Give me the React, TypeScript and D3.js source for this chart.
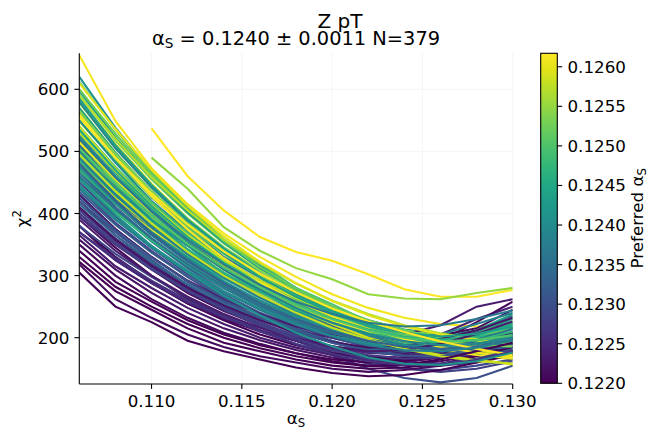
import * as d3 from "d3";

// alpha_s scan points
const ALPHA = [0.106, 0.108, 0.11, 0.112, 0.114, 0.116, 0.118, 0.12, 0.122, 0.124, 0.126, 0.128, 0.13];

// preferred alpha_s of each replica (colour)
const PREFERRED = [
  0.1261, 0.1241, 0.125, 0.1259, 0.1252, 0.1243, 0.126, 0.1221, 0.1254, 0.1239,
  0.1262, 0.1248, 0.1237, 0.1258, 0.1251, 0.1242, 0.124, 0.1253, 0.126, 0.1238,
  0.1249, 0.1244, 0.1257, 0.1255, 0.1234, 0.1239, 0.1232, 0.1247, 0.1259, 0.1236,
  0.123, 0.1237, 0.1261, 0.1233, 0.1236, 0.1229, 0.1231, 0.1228, 0.1227, 0.1224,
  0.123, 0.1228, 0.1222, 0.1221, 0.1226, 0.122, 0.1221, 0.1229, 0.1223, 0.1222,
  0.1221, 0.122, 0.122, 0.1221, 0.122, 0.1245, 0.125, 0.1235, 0.1223, 0.124,
  0.1262, 0.1256, 0.1243, 0.1232, 0.1258, 0.1246, 0.1241, 0.1227, 0.1238, 0.1234,
  0.1225, 0.1252, 0.1257, 0.1244, 0.1236, 0.126, 0.1248, 0.1233,
  0.1242, 0.1251, 0.1235, 0.1259, 0.1222, 0.124, 0.1231, 0.1247, 0.1261, 0.1245,
  0.1223, 0.1228, 0.1254, 0.1258, 0.1239, 0.1233, 0.1243, 0.122, 0.125, 0.1262,
  0.1226, 0.1238, 0.1241, 0.1237,
  0.1262, 0.1255,
];

// chi2 of each replica at the ALPHA points
const CHI2: (number | null)[][] = [
  [655, 549, 473, 415, 368, 330, 298, 270, 248, 232, 222, 218, 220],
  [620, 538, 468, 408, 358, 316, 280, 250, 228, 213, 206, 208, 218],
  [612, 535, 466, 412, 358, 320, 280, 254, 226, 212, 196, 197, 200],
  [600, 528, 462, 405, 355, 312, 276, 246, 222, 204, 190, 182, 178],
  [592, 518, 455, 400, 352, 312, 278, 250, 228, 212, 202, 200, 205],
  [598, 522, 458, 402, 354, 312, 277, 248, 226, 212, 206, 210, 222],
  [585, 512, 448, 392, 344, 304, 270, 240, 216, 198, 186, 178, 175],
  [562, 492, 432, 380, 336, 298, 266, 240, 220, 208, 204, 215, 245],
  [578, 506, 445, 392, 346, 308, 275, 248, 227, 212, 203, 201, 206],
  [580, 505, 442, 388, 342, 302, 268, 240, 218, 204, 197, 198, 208],
  [570, 498, 436, 382, 336, 296, 262, 234, 212, 196, 184, 176, 170],
  [560, 494, 436, 384, 340, 303, 271, 245, 224, 210, 200, 198, 204],
  [560, 490, 426, 377, 330, 297, 260, 238, 213, 205, 194, 200, 206],
  [548, 484, 427, 378, 336, 300, 270, 244, 224, 208, 196, 188, 184],
  [550, 485, 428, 378, 335, 298, 266, 240, 220, 206, 197, 195, 200],
  [540, 472, 414, 364, 322, 286, 255, 230, 210, 196, 188, 188, 196],
  [550, 482, 420, 372, 324, 292, 256, 234, 210, 200, 188, 194, 198],
  [530, 468, 413, 365, 324, 290, 260, 236, 216, 202, 193, 190, 195],
  [522, 458, 402, 354, 314, 280, 250, 226, 206, 190, 178, 170, 166],
  [520, 455, 398, 350, 310, 276, 246, 222, 203, 190, 184, 185, 195],
  [520, 460, 408, 362, 322, 288, 258, 234, 215, 203, 196, 202, 218],
  [510, 450, 396, 350, 310, 276, 248, 226, 210, 200, 196, 208, 230],
  [500, 443, 393, 350, 313, 282, 255, 232, 214, 200, 190, 183, 178],
  [500, 442, 392, 348, 310, 278, 250, 228, 210, 197, 189, 187, 192],
  [500, 438, 384, 338, 298, 265, 238, 216, 200, 190, 186, 190, 200],
  [500, 440, 388, 342, 302, 268, 240, 216, 198, 185, 178, 178, 186],
  [490, 428, 375, 328, 290, 258, 232, 212, 198, 190, 188, 192, 205],
  [485, 428, 380, 338, 302, 272, 246, 225, 208, 196, 188, 185, 190],
  [480, 425, 378, 337, 302, 272, 246, 225, 208, 194, 184, 177, 172],
  [480, 422, 372, 328, 290, 258, 230, 207, 190, 178, 172, 172, 180],
  [470, 410, 360, 315, 280, 250, 225, 205, 190, 180, 178, 182, 195],
  [470, 415, 365, 322, 285, 254, 228, 208, 192, 180, 175, 176, 184],
  [470, 418, 373, 334, 300, 271, 247, 226, 208, 192, 178, 166, 156],
  [460, 405, 355, 312, 275, 245, 220, 200, 185, 175, 170, 172, 182],
  [460, 405, 358, 316, 280, 250, 224, 203, 188, 176, 170, 170, 178],
  [450, 395, 345, 302, 268, 240, 218, 200, 186, 178, 175, 180, 190],
  [445, 392, 345, 305, 270, 240, 215, 195, 180, 170, 168, 172, 185],
  [440, 385, 340, 298, 262, 232, 205, 182, 162, 150, 145, 150, 162],
  [430, 375, 330, 290, 258, 232, 210, 192, 180, 172, 170, 175, 185],
  [420, 365, 320, 282, 252, 230, 212, 200, 192, 195, 205, 230, 250],
  [420, 370, 325, 285, 250, 220, 195, 172, 150, 135, 128, 135, 155],
  [410, 360, 318, 280, 250, 225, 203, 185, 170, 160, 158, 162, 172],
  [400, 352, 310, 272, 243, 220, 200, 186, 176, 175, 180, 190, 210],
  [395, 345, 300, 262, 235, 212, 195, 180, 170, 168, 175, 188, 205],
  [395, 350, 310, 275, 245, 218, 195, 177, 165, 155, 155, 160, 175],
  [380, 330, 290, 255, 228, 205, 188, 175, 168, 165, 172, 185, 200],
  [380, 325, 288, 255, 230, 210, 195, 185, 180, 182, 195, 225, 258],
  [380, 335, 298, 265, 238, 212, 190, 172, 158, 150, 148, 155, 165],
  [365, 315, 280, 248, 222, 200, 184, 172, 165, 162, 170, 180, 192],
  [358, 310, 272, 240, 215, 196, 180, 168, 160, 160, 168, 180, 195],
  [350, 300, 262, 232, 208, 190, 175, 162, 155, 156, 162, 172, 190],
  [340, 290, 258, 228, 205, 188, 175, 165, 160, 163, 170, 182, 200],
  [322, 275, 245, 215, 192, 178, 165, 155, 150, 152, 158, 170, 185],
  [318, 262, 232, 205, 185, 170, 160, 150, 145, 148, 155, 165, 178],
  [305, 250, 225, 195, 178, 165, 152, 143, 138, 140, 148, 160, 172],
  [530, 465, 408, 358, 318, 284, 255, 232, 214, 203, 200, 212, 238],
  [540, 475, 418, 368, 326, 292, 262, 238, 220, 208, 202, 208, 225],
  [475, 418, 368, 325, 288, 258, 232, 212, 198, 192, 195, 210, 235],
  [430, 375, 330, 292, 262, 238, 218, 205, 198, 205, 220, 250, 262],
  [490, 430, 378, 334, 296, 264, 236, 214, 198, 188, 184, 186, 195],
  [560, 490, 428, 374, 328, 290, 258, 230, 208, 192, 180, 172, 166],
  [510, 450, 398, 353, 315, 283, 256, 233, 214, 198, 185, 175, 168],
  [455, 402, 356, 316, 282, 253, 228, 208, 193, 183, 180, 186, 200],
  [435, 382, 337, 298, 265, 237, 213, 194, 180, 172, 172, 182, 200],
  [530, 468, 413, 365, 325, 292, 264, 240, 220, 204, 190, 180, 170],
  [470, 416, 370, 330, 295, 266, 240, 220, 205, 196, 194, 200, 215],
  [445, 392, 348, 308, 275, 247, 222, 203, 190, 182, 182, 190, 205],
  [405, 356, 314, 278, 248, 222, 200, 183, 172, 166, 168, 178, 195],
  [490, 432, 380, 335, 297, 265, 238, 218, 205, 200, 205, 222, 240],
  [415, 365, 322, 286, 255, 230, 210, 193, 182, 178, 182, 196, 215],
  [370, 325, 288, 257, 232, 212, 196, 184, 176, 172, 176, 188, 205],
  [600, 528, 463, 406, 356, 314, 279, 250, 228, 212, 200, 194, 196],
  [590, 520, 458, 405, 358, 320, 287, 260, 238, 220, 207, 198, 193],
  [570, 498, 435, 382, 337, 298, 266, 240, 219, 205, 197, 196, 203],
  [520, 455, 398, 350, 310, 276, 246, 222, 203, 190, 182, 180, 186],
  [610, 536, 470, 412, 363, 322, 288, 259, 236, 218, 205, 196, 190],
  [455, 402, 357, 318, 285, 257, 233, 214, 200, 190, 185, 186, 194],
  [510, 445, 390, 342, 302, 268, 240, 218, 200, 188, 182, 182, 190],
  [505, 446, 390, 348, 303, 275, 242, 224, 204, 199, 188, 196, 204],
  [515, 452, 400, 352, 314, 280, 252, 230, 213, 204, 196, 204, 214],
  [465, 408, 360, 318, 283, 252, 228, 208, 194, 186, 185, 196, 214],
  [540, 472, 412, 360, 316, 280, 248, 222, 200, 184, 172, 164, 158],
  [410, 358, 316, 280, 252, 228, 208, 193, 184, 186, 198, 212, 232],
  [475, 418, 370, 328, 291, 260, 234, 212, 197, 188, 186, 190, 202],
  [425, 373, 329, 291, 259, 233, 210, 192, 178, 171, 170, 178, 190],
  [495, 437, 386, 342, 305, 273, 246, 224, 207, 197, 192, 196, 210],
  [515, 455, 402, 357, 318, 286, 258, 234, 214, 198, 185, 176, 168],
  [535, 470, 412, 362, 320, 285, 255, 231, 213, 201, 197, 203, 222],
  [390, 340, 300, 266, 238, 216, 198, 186, 178, 180, 190, 206, 226],
  [400, 352, 311, 276, 246, 220, 198, 180, 166, 158, 158, 166, 180],
  [565, 496, 436, 384, 340, 302, 270, 244, 223, 207, 195, 188, 186],
  [495, 436, 384, 338, 300, 268, 240, 216, 197, 182, 170, 162, 158],
  [525, 460, 403, 354, 313, 278, 248, 224, 206, 194, 188, 190, 198],
  [480, 420, 368, 324, 287, 256, 230, 210, 195, 185, 182, 186, 196],
  [585, 510, 446, 390, 344, 304, 270, 243, 222, 208, 202, 206, 218],
  [330, 282, 250, 222, 200, 183, 170, 160, 154, 156, 165, 178, 192],
  [505, 447, 396, 351, 313, 281, 253, 230, 212, 200, 194, 196, 204],
  [555, 490, 432, 382, 339, 303, 273, 247, 226, 209, 194, 182, 172],
  [370, 328, 292, 260, 234, 210, 190, 174, 162, 156, 156, 164, 178],
  [440, 390, 345, 306, 273, 245, 221, 202, 188, 180, 178, 184, 196],
  [455, 398, 348, 305, 268, 236, 208, 186, 168, 158, 156, 162, 176],
  [520, 458, 404, 358, 318, 285, 258, 238, 224, 218, 220, 230, 244],
  [null, null, 537, 460, 405, 362, 338, 324, 302, 278, 266, 266, 277],
  [null, null, 490, 440, 378, 340, 312, 294, 270, 263, 262, 272, 280],
];

const X_TICKS = [0.11, 0.115, 0.12, 0.125, 0.13];
const Y_TICKS = [200, 300, 400, 500, 600];
const CBAR_TICKS = [0.122, 0.1225, 0.123, 0.1235, 0.124, 0.1245, 0.125, 0.1255, 0.126];

const W = 658;
const H = 441;
const plot = { left: 79.3, right: 512.7, top: 53.3, bottom: 384 };
const cbar = { left: 540.7, right: 557.3, top: 53.3, bottom: 383.3 };
const font = "DejaVu Sans, sans-serif";

export default function App() {
  const x = d3.scaleLinear().domain([0.106, 0.13]).range([plot.left, plot.right]);
  const y = d3.scaleLinear().domain([125.4, 658]).range([plot.bottom, plot.top]);
  const c = d3.scaleLinear().domain([0.122, 0.12617]).range([cbar.bottom, cbar.top]);
  const colour = (v: number) => d3.interpolateViridis(Math.max(0, Math.min(1, (v - 0.122) / (0.12617 - 0.122))));

  const line = d3
    .line<number | null>()
    .defined((d) => d !== null)
    .x((_, i) => x(ALPHA[i]))
    .y((d) => y(d as number));

  const stops = d3.range(0, 1.001, 0.05);

  return (
    <svg
      width={W}
      height={H}
      style={{ position: "absolute", left: 0, top: 0, display: "block", background: "#fff" }}
      fontFamily={font}
    >
      <defs>
        <linearGradient id="vir" x1="0" y1="1" x2="0" y2="0">
          {stops.map((t) => (
            <stop key={t} offset={t} stopColor={d3.interpolateViridis(t)} />
          ))}
        </linearGradient>
        <clipPath id="plotclip">
          <rect x={plot.left} y={plot.top} width={plot.right - plot.left} height={plot.bottom - plot.top} />
        </clipPath>
      </defs>

      {/* faint grid */}
      {X_TICKS.map((t) => (
        <line key={"gx" + t} x1={x(t)} x2={x(t)} y1={plot.top} y2={plot.bottom} stroke="#f3f3f3" strokeWidth={0.8} />
      ))}
      {Y_TICKS.map((t) => (
        <line key={"gy" + t} x1={plot.left} x2={plot.right} y1={y(t)} y2={y(t)} stroke="#f3f3f3" strokeWidth={0.8} />
      ))}

      <g clipPath="url(#plotclip)">
        {CHI2.map((vals, i) => (
          <path key={i} d={line(vals) || ""} fill="none" stroke={colour(PREFERRED[i])} strokeWidth={2.1} />
        ))}
      </g>

      {/* spines */}
      <line x1={plot.left} x2={plot.left} y1={plot.top} y2={plot.bottom} stroke="#000" strokeWidth={1.1} />
      <line x1={plot.left} x2={plot.right} y1={plot.bottom} y2={plot.bottom} stroke="#000" strokeWidth={1.1} />

      {X_TICKS.map((t) => (
        <g key={"xt" + t}>
          <line x1={x(t)} x2={x(t)} y1={plot.bottom} y2={plot.bottom + 4.9} stroke="#000" strokeWidth={1.1} />
          <text x={x(t)} y={407} fontSize={16.7} textAnchor="middle">
            {t.toFixed(3)}
          </text>
        </g>
      ))}
      {Y_TICKS.map((t) => (
        <g key={"yt" + t}>
          <line x1={plot.left - 4.9} x2={plot.left} y1={y(t)} y2={y(t)} stroke="#000" strokeWidth={1.1} />
          <text x={69.5} y={y(t)} dy="0.36em" fontSize={16.7} textAnchor="end">
            {t}
          </text>
        </g>
      ))}

      {/* axis labels */}
      <text x={(plot.left + plot.right) / 2} y={424} fontSize={16.7} textAnchor="middle">
        α<tspan fontSize={11.7} dy={3}>S</tspan>
      </text>
      <text transform={`translate(28,${(plot.top + plot.bottom) / 2}) rotate(-90)`} fontSize={16.7} textAnchor="middle">
        χ<tspan fontSize={11.7} dy={-7}>2</tspan>
      </text>

      {/* titles */}
      <text x={340} y={28} fontSize={20} textAnchor="middle">
        Z pT
      </text>
      <text x={(plot.left + plot.right) / 2} y={45} fontSize={19.4} textAnchor="middle">
        α<tspan fontSize={13.6} dy={2.5}>S</tspan>
        <tspan dy={-2.5}> = 0.1240 ± 0.0011 N=379</tspan>
      </text>

      {/* colour bar */}
      <rect x={cbar.left} y={cbar.top} width={cbar.right - cbar.left} height={cbar.bottom - cbar.top} fill="url(#vir)" stroke="#000" strokeWidth={1.1} />
      {CBAR_TICKS.map((t) => (
        <g key={"ct" + t}>
          <line x1={cbar.right} x2={cbar.right + 4.9} y1={c(t)} y2={c(t)} stroke="#000" strokeWidth={1.1} />
          <text x={567.5} y={c(t)} dy="0.36em" fontSize={16.7}>
            {t.toFixed(4)}
          </text>
        </g>
      ))}
      <text transform={`translate(643,${(cbar.top + cbar.bottom) / 2}) rotate(-90)`} fontSize={16.7} textAnchor="middle">
        Preferred α<tspan fontSize={11.7} dy={3}>S</tspan>
      </text>
    </svg>
  );
}
